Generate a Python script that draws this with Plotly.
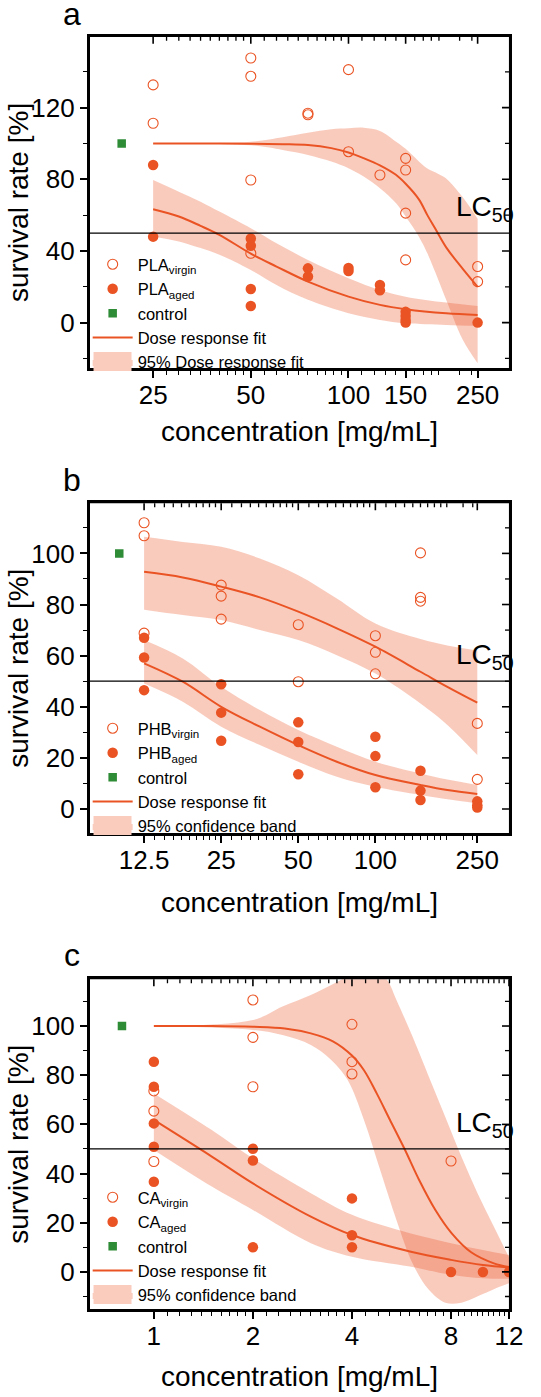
import math
import plotly.graph_objects as go

W, H = 541, 1397
ORANGE = "#EA5424"
BAND = "rgba(234,84,36,0.30)"
BAND_SOLID = "rgb(249,204,189)"
GREEN = "#2E8B36"
FONT = "Liberation Sans, Arial, sans-serif"

# ---------------- Panel a : PLA ----------------
a_virgin_x = [25, 25, 50, 50, 50, 50, 75, 75, 100, 100, 125, 150, 150, 150, 150, 250, 250]
a_virgin_y = [132.7, 111.3, 147.7, 137.5, 79.6, 38.7, 116.9, 116.0, 141.2, 95.4, 82.4, 91.7, 85.2, 61.1, 35.0, 31.3, 22.9]
a_aged_x = [25, 25, 50, 50, 50, 50, 75, 75, 100, 100, 125, 125, 150, 150, 150, 150, 250]
a_aged_y = [88.0, 48.0, 47.0, 42.9, 18.8, 9.3, 30.3, 25.7, 30.5, 28.8, 21.0, 18.0, 6.0, 3.7, 1.5, 0.0, 0.0]
a_control_x = [20]
a_control_y = [100]

a_vfit_x = [25, 35, 50, 62.7, 75, 88.5, 100, 111.4, 125, 140, 150, 164.8, 175, 185, 200, 225, 250]
a_vfit_y = [100, 100, 99.9, 99.6, 99.1, 97.4, 95.0, 91.8, 87.8, 82.5, 77.5, 68.8, 60.0, 52.5, 42.0, 30.0, 20.0]
a_vband_x = [25, 50, 62.7, 75, 88.5, 100, 111.4, 125, 140.2, 150, 164.8, 175, 189.2, 200, 225, 250]
a_vband_hi = [100, 101, 103.5, 106, 108, 108.5, 108.8, 107, 101, 97, 90, 86, 83, 80.5, 70, 58]
a_vband_lo = [100, 99, 96.4, 93.6, 89.9, 86.2, 81.5, 75, 66.6, 59.2, 48, 38.7, 23.8, 12.7, -9.6, -22.7]

a_afit_x = [25, 30, 35, 40, 50, 60, 75, 100, 125, 150, 200, 250]
a_afit_y = [63.3, 59.2, 54.0, 49.0, 38.5, 31.3, 22.9, 14.5, 9.9, 7.5, 5.2, 4.3]
a_aband_hi = [79.6, 73.1, 67.5, 62.0, 52.7, 44.3, 35.0, 24.8, 18.2, 14.5, 11.2, 9.3]
a_aband_lo = [48.0, 45.3, 41.6, 37.9, 29.4, 21.0, 12.7, 5.2, 1.5, -0.4, -1.3, -1.8]

a_xticks = [25, 50, 100, 150, 250]
a_xticktext = ["25", "50", "100", "150", "250"]
a_yticks = [0, 40, 80, 120]

# ---------------- Panel b : PHB ----------------
b_virgin_x = [12.5, 12.5, 12.5, 25, 25, 25, 50, 50, 100, 100, 100, 150, 150, 150, 250, 250]
b_virgin_y = [112.0, 106.9, 68.8, 87.6, 83.3, 74.3, 72.1, 49.8, 67.8, 61.3, 52.9, 100.2, 82.8, 81.3, 33.5, 11.6]
b_aged_x = [12.5, 12.5, 12.5, 25, 25, 25, 50, 50, 50, 100, 100, 100, 150, 150, 150, 250, 250, 250]
b_aged_y = [67.0, 59.3, 46.5, 48.8, 37.7, 26.7, 33.9, 26.2, 13.6, 28.3, 20.7, 8.5, 15.0, 7.2, 3.5, 3.0, 1.5, 0.6]
b_control_x = [10]
b_control_y = [100]

b_fit_x = [12.5, 17.7, 25, 35.4, 50, 70.7, 100, 150, 191, 250]
b_vfit_y = [92.8, 90.6, 87.0, 82.8, 77.2, 70.7, 63.5, 53.7, 47.8, 41.6]
b_vband_hi = [106.5, 104.5, 102.6, 98.0, 91.5, 82.4, 72.6, 66.5, 64.0, 62.0]
b_vband_lo = [78.0, 75.9, 73.9, 70.0, 66.1, 60.2, 53.0, 41.3, 32.9, 21.1]
b_afit_y = [57.0, 49.8, 40.0, 32.2, 25.0, 18.5, 13.3, 9.4, 7.4, 5.9]
b_aband_hi = [66.1, 58.9, 47.8, 38.7, 30.9, 24.4, 18.5, 13.9, 11.5, 9.4]
b_aband_lo = [49.1, 42.0, 32.2, 25.0, 18.5, 12.6, 8.7, 5.5, 3.8, 2.2]

b_xticks = [12.5, 25, 50, 100, 250]
b_xticktext = ["12.5", "25", "50", "100", "250"]
b_yticks = [0, 20, 40, 60, 80, 100]

# ---------------- Panel c : CA ----------------
c_virgin_x = [1, 1, 1, 2, 2, 2, 4, 4, 4, 8]
c_virgin_y = [73.6, 65.4, 44.9, 110.6, 95.4, 75.3, 100.7, 85.5, 80.5, 45.1]
c_aged_x = [1, 1, 1, 1, 1, 2, 2, 2, 4, 4, 4, 8, 10, 12]
c_aged_y = [85.5, 75.3, 60.4, 50.9, 36.7, 50.1, 45.3, 10.0, 29.9, 14.9, 10.0, 0.0, 0.0, 0.0]
c_control_x = [0.8]
c_control_y = [100]

c_vfit_x = [1, 1.5, 2, 2.5, 3, 3.5, 4, 4.35, 4.76, 5.21, 5.78, 6.4, 7.17, 8.04, 9.21, 10.8, 12]
c_vfit_y = [100, 100, 99.7, 99.0, 97.0, 93.8, 88.0, 82.0, 72.5, 62.0, 50.0, 37.4, 25.2, 15.7, 8.0, 3.5, 2.0]
c_vband_hi_x = [1, 2, 2.46, 3, 3.46, 4, 4.6, 5.1, 5.46, 6.11, 6.85, 7.68, 8.6, 9.63, 10.8, 12]
c_vband_hi = [100, 102.4, 107.9, 112.6, 116.7, 121, 124, 119, 110.6, 95.7, 79.4, 63.1, 46.9, 32.0, 18.4, 6.0]
c_vband_lo_x = [1, 2, 2.46, 3, 3.46, 3.88, 4.35, 4.87, 5.46, 6.11, 6.85, 7.68, 8.6, 10, 11, 12]
c_vband_lo = [100, 98.4, 96.3, 92.3, 86.2, 78.0, 61.8, 41.5, 21.1, 3.5, -7.3, -12.5, -12.5, -9.0, -6.5, -4.6]

c_afit_x = [1, 1.5, 2, 3, 4, 6, 8, 10, 12]
c_afit_y = [61.8, 46.9, 36.0, 22.5, 15.0, 8.3, 4.9, 2.8, 1.8]
c_aband_hi = [72.6, 57.7, 46.2, 32.0, 23.2, 15.7, 11.7, 8.9, 6.9]
c_aband_lo = [49.6, 34.7, 25.2, 11.7, 6.2, 2.2, -1.2, -2.6, -2.8]

c_xticks = [1, 2, 4, 8, 12]
c_xticktext = ["1", "2", "4", "8", "12"]
c_yticks = [0, 20, 40, 60, 80, 100]

LC50 = 50


def minor_between(majors_full, n=9):
    vals = []
    for lo, hi in zip(majors_full[:-1], majors_full[1:]):
        step = (hi - lo) / (n + 1)
        vals += [lo + step * k for k in range(1, n + 1)]
    return vals


a_minor = [v for v in minor_between([25, 50, 100, 200]) if abs(v - 150) > 1e-6] + [220, 240]
b_minor = minor_between([12.5, 25, 50, 100, 200]) + [220, 240]
c_minor = minor_between([1, 2, 4, 8]) + [8.4, 8.8, 9.2, 9.6, 10.0, 10.4, 10.8, 11.2, 11.6]

XL, XR = 92.0, 522.5
X_DOM = [XL / W, XR / W]
LEG_FONT = 16.5
LEG_OFFSET = 16.7
LEG_STEP = 24.45
MAJ_LEN, MIN_LEN = 7, 4
FRAME_W = 2.6
panels = [
    dict(name="PLA", vx=a_virgin_x, vy=a_virgin_y, ax=a_aged_x, ay=a_aged_y,
         cx=a_control_x, cy=a_control_y,
         vfx=a_vfit_x, vfy=a_vfit_y, vbhx=a_vband_x, vbh=a_vband_hi, vblx=a_vband_x, vbl=a_vband_lo,
         afx=a_afit_x, afy=a_afit_y, abh=a_aband_hi, abl=a_aband_lo,
         xt=a_xticks, xtt=a_xticktext, yt=a_yticks, ymin=20, minor=a_minor,
         xr=[math.log10(15.93), math.log10(312.3)], yr=[-25.5, 159.6],
         ypx=[36.7, 368.3], band_name="95% Dose response fit",
         label="a", label_y=14, xtitle_y=431.7, leg_top=247),
    dict(name="PHB", vx=b_virgin_x, vy=b_virgin_y, ax=b_aged_x, ay=b_aged_y,
         cx=b_control_x, cy=b_control_y,
         vfx=b_fit_x, vfy=b_vfit_y, vbhx=b_fit_x, vbh=b_vband_hi, vblx=b_fit_x, vbl=b_vband_lo,
         afx=b_fit_x, afy=b_afit_y, abh=b_aband_hi, abl=b_aband_lo,
         xt=b_xticks, xtt=b_xticktext, yt=b_yticks, ymin=10, minor=b_minor,
         xr=[math.log10(7.66), math.log10(332.4)], yr=[-9.5, 119.6],
         ypx=[503.3, 833.3], band_name="95% confidence band",
         label="b", label_y=480, xtitle_y=902, leg_top=711),
    dict(name="CA", vx=c_virgin_x, vy=c_virgin_y, ax=c_aged_x, ay=c_aged_y,
         cx=c_control_x, cy=c_control_y,
         vfx=c_vfit_x, vfy=c_vfit_y, vbhx=c_vband_hi_x, vbh=c_vband_hi, vblx=c_vband_lo_x, vbl=c_vband_lo,
         afx=c_afit_x, afy=c_afit_y, abh=c_aband_hi, abl=c_aband_lo,
         xt=c_xticks, xtt=c_xticktext, yt=c_yticks, ymin=10, minor=c_minor,
         xr=[math.log10(0.638), math.log10(12)], yr=[-15.2, 119],
         ypx=[979.3, 1309.3], band_name="95% confidence band",
         label="c", label_y=955, xtitle_y=1376.7, leg_top=1180),
]

fig = go.Figure()
layout = dict(width=W, height=H, margin=dict(l=0, r=0, t=0, b=0),
              paper_bgcolor="white", plot_bgcolor="white",
              font=dict(family=FONT, color="black"), showlegend=True)
annotations = []
shapes = []


def py(px):
    return 1 - px / H


for i, p in enumerate(panels, start=1):
    xa = "x" if i == 1 else f"x{i}"
    ya = "y" if i == 1 else f"y{i}"
    leg = "legend" if i == 1 else f"legend{i}"
    common = dict(xaxis=xa, yaxis=ya, legend=leg, hoverinfo="skip")
    top_px, bot_px = p["ypx"]
    ydom = [py(bot_px), py(top_px)]

    # virgin confidence band
    fig.add_trace(go.Scatter(x=p["vblx"], y=p["vbl"], mode="lines", line=dict(width=0, shape="spline"),
                             showlegend=False, **common))
    fig.add_trace(go.Scatter(x=p["vbhx"], y=p["vbh"], mode="lines", line=dict(width=0, shape="spline"),
                             fill="tonexty", fillcolor=BAND, showlegend=False, **common))
    # aged confidence band
    fig.add_trace(go.Scatter(x=p["afx"], y=p["abl"], mode="lines", line=dict(width=0, shape="spline"),
                             showlegend=False, **common))
    fig.add_trace(go.Scatter(x=p["afx"], y=p["abh"], mode="lines", line=dict(width=0, shape="spline"),
                             fill="tonexty", fillcolor=BAND, showlegend=False, **common))
    # legend entry for the band
    fig.add_trace(go.Scatter(x=[None], y=[None], mode="lines", line=dict(width=0),
                             fill="toself", fillcolor=BAND_SOLID, name=p["band_name"], legendrank=5,
                             showlegend=True, **common))
    # fits
    fig.add_trace(go.Scatter(x=p["vfx"], y=p["vfy"], mode="lines", line=dict(color=ORANGE, width=2, shape="spline"),
                             name="Dose response fit", legendrank=4, **common))
    fig.add_trace(go.Scatter(x=p["afx"], y=p["afy"], mode="lines", line=dict(color=ORANGE, width=2, shape="spline"),
                             showlegend=False, **common))
    # data points
    fig.add_trace(go.Scatter(x=p["vx"], y=p["vy"], mode="markers",
                             marker=dict(symbol="circle-open", size=10, color=ORANGE, line=dict(width=1.1, color=ORANGE)),
                             name=f"{p['name']}<sub>virgin</sub>", legendrank=1, **common))
    fig.add_trace(go.Scatter(x=p["ax"], y=p["ay"], mode="markers",
                             marker=dict(symbol="circle", size=10.5, color=ORANGE),
                             name=f"{p['name']}<sub>aged</sub>", legendrank=2, **common))
    fig.add_trace(go.Scatter(x=p["cx"], y=p["cy"], mode="markers",
                             marker=dict(symbol="square", size=8.5, color=GREEN),
                             name="control", legendrank=3, **common))

    tick_common = dict(tickcolor="black", tickwidth=1.6, showgrid=False, zeroline=False,
                       showline=True, linecolor="black", linewidth=FRAME_W, mirror=True)
    xminor_out = dict(tickvals=p["minor"], ticks="outside", ticklen=MIN_LEN, tickwidth=1.3, tickcolor="black", showgrid=False)
    yminor_out = dict(dtick=p["ymin"], tick0=0, ticks="outside", ticklen=MIN_LEN, tickwidth=1.3, tickcolor="black", showgrid=False)

    layout[f"xaxis{i if i > 1 else ''}"] = dict(
        domain=X_DOM, anchor=ya, type="log", range=p["xr"], tickmode="array",
        tickvals=p["xt"], ticktext=p["xtt"], ticks="outside", ticklen=MAJ_LEN, ticklabelstandoff=-5,
        tickfont=dict(size=26, family=FONT, color="black"), minor=xminor_out, **tick_common)
    layout[f"yaxis{i if i > 1 else ''}"] = dict(
        domain=ydom, anchor=xa, range=p["yr"], tickmode="array",
        tickvals=p["yt"], ticks="outside", ticklen=MAJ_LEN,
        tickfont=dict(size=26, family=FONT, color="black"), minor=yminor_out, **tick_common)

    # frame: top and right edges drawn explicitly in paper coordinates
    shapes.append(dict(type="line", xref="paper", yref="paper", x0=(XL - 1.3) / W, x1=(XR + 1.3) / W,
                       y0=py(top_px - 1.3), y1=py(top_px - 1.3), line=dict(color="black", width=FRAME_W), layer="above"))
    shapes.append(dict(type="line", xref="paper", yref="paper", x0=(XR + 1.3) / W, x1=(XR + 1.3) / W,
                       y0=py(top_px - 1.3), y1=py(bot_px + 1.3), line=dict(color="black", width=FRAME_W), layer="above"))
    # inward ticks on the top edge (same tick values as the bottom axis)
    for v, ln, w in [(t, MAJ_LEN, 1.6) for t in p["xt"]] + [(t, MIN_LEN, 1.3) for t in p["minor"]]:
        shapes.append(dict(type="line", xref=xa, x0=v, x1=v, yref="paper", ysizemode="pixel",
                           yanchor=py(top_px), y0=0, y1=-ln, line=dict(color="black", width=w), layer="above"))
    # inward ticks on the right edge
    ylo, yhi = p["yr"]
    yvals = [k * p["ymin"] for k in range(math.ceil(ylo / p["ymin"]), math.floor(yhi / p["ymin"]) + 1)]
    for v in yvals:
        ln, w = (MAJ_LEN, 1.6) if v in p["yt"] else (MIN_LEN, 1.3)
        shapes.append(dict(type="line", yref=ya, y0=v, y1=v, xref="paper", xsizemode="pixel",
                           xanchor=XR / W, x0=0, x1=-ln, line=dict(color="black", width=w), layer="above"))

    layout[leg] = dict(x=90 / W, y=py(p["leg_top"]), xanchor="left", yanchor="top",
                       bgcolor="rgba(0,0,0,0)", borderwidth=0, itemwidth=40, tracegroupgap=0,
                       traceorder="normal",
                       font=dict(size=LEG_FONT, family=FONT, color="black"))
    # larger swatch for the band legend entry
    yc = p["leg_top"] + LEG_OFFSET + 4 * LEG_STEP
    shapes.append(dict(type="rect", xref="paper", yref="paper", x0=96 / W, x1=135 / W,
                       y0=py(yc + 9.5), y1=py(yc - 9.5),
                       fillcolor=BAND_SOLID, line=dict(width=0), layer="above"))

    # LC50 reference line
    shapes.append(dict(type="line", xref="paper", x0=XL / W, x1=XR / W, yref=ya, y0=LC50, y1=LC50,
                       line=dict(color="black", width=1.3), layer="above"))
    annotations.append(dict(text="LC<sub>50</sub>", xref=f"{xa} domain", x=1.017, xanchor="right",
                            yref=ya, y=LC50, yanchor="bottom", yshift=5, showarrow=False,
                            font=dict(size=28, family=FONT, color="black")))
    # panel letter
    annotations.append(dict(text=p["label"], xref="paper", yref="paper", x=74 / W, y=py(p["label_y"]),
                            xanchor="center", yanchor="middle", showarrow=False,
                            font=dict(size=32, family=FONT, color="black")))
    # axis titles
    annotations.append(dict(text="concentration [mg/mL]", xref="paper", yref="paper",
                            x=(X_DOM[0] + X_DOM[1]) / 2, y=py(p["xtitle_y"]),
                            xanchor="center", yanchor="middle", showarrow=False,
                            font=dict(size=28, family=FONT, color="black")))
    annotations.append(dict(text="survival rate [%]", xref="paper", yref="paper", textangle=-90,
                            x=19 / W, y=(ydom[0] + ydom[1]) / 2,
                            xanchor="center", yanchor="middle", showarrow=False,
                            font=dict(size=28, family=FONT, color="black")))

layout["annotations"] = annotations
layout["shapes"] = shapes
fig.update_layout(**layout)
fig.write_html("out.html")
